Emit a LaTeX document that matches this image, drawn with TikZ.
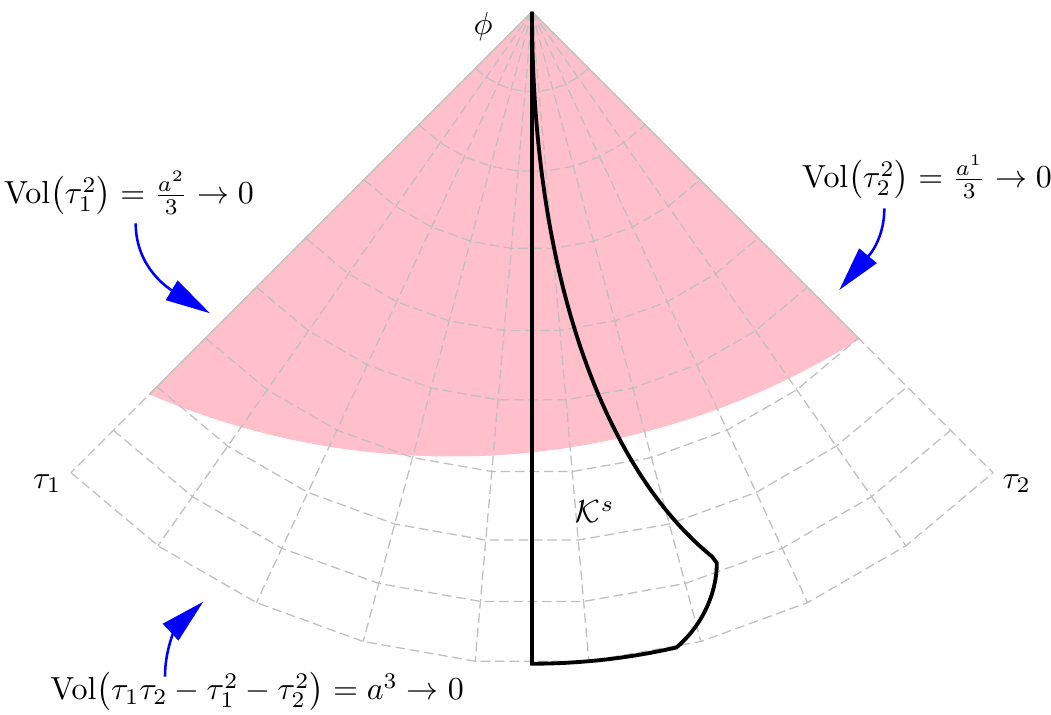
\documentclass[tikz,border=0pt]{standalone}
\usepackage{amsmath}
\usetikzlibrary{arrows.meta}

\definecolor{volpink}{RGB}{255,192,203}
\tikzset{
  gridline/.style={gray!50, dash pattern=on 3pt off 1.5pt},
  volarrow/.style={thick, blue, -{Triangle[length=14pt,width=7pt]}},
}

\begin{document}
\begin{tikzpicture}[scale=0.88]
  \useasboundingbox (-6.65,0.146) rectangle (6.4875,-8.79);

  % Bereich mit verschwindendem Volumen
  \begin{scope}
    \clip (0,0) -- (-135:12) -- (-45:12) -- cycle;
    \fill[volpink] (-1,4) circle (9.56);
  \end{scope}
  \draw[gray!50] (-135:6.76) -- (0,0) -- (-45:5.79);

  % Gitter
  \foreach \a in {-135,-125,...,-45}
    \draw[gridline] (0,0) -- (\a:8.15);
  \foreach \r in {1,2,2.97,4,4.87,5.77,6.63,7.4,8.15}
    \draw[gridline] (-135:\r) \foreach \a in {-125,-115,...,-45} { -- (\a:\r) };

  % Kegel
  \draw[very thick] (0,0) .. controls (0,-3.5) and (1.0,-5.8) .. (2.25,-6.81)
    -- (2.31,-6.89) .. controls (2.31,-7.3) and (2.1,-7.7) .. (-77.2:8.15)
    arc[start angle=-77.2, end angle=-90, radius=8.15] -- cycle;
  \node (ks) at (0.79,-6.25) {$\mathcal{K}^s$};

  \node (phi) at (-0.61,-0.19) {$\phi$};
  \node (t1) at (-6.06,-5.9) {$\tau_1$};
  \node (t2) at (6.06,-5.9) {$\tau_2$};

  % Beschriftungen
  \node (vol1) at (-5.0375,-2.266) {$\mathrm{Vol}\bigl(\tau_1^2\bigr) = \frac{a^2}{3} \to 0$};
  \node (vol2) at (4.9375,-2.066) {$\mathrm{Vol}\bigl(\tau_2^2\bigr) = \frac{a^1}{3} \to 0$};
  \node (vol3) at (-3.4375,-8.5) {$\mathrm{Vol}\bigl(\tau_1\tau_2 - \tau_1^2 - \tau_2^2\bigr) = a^3 \to 0$};

  \coordinate (from1) at (-4.954,-2.645);
  \coordinate (to1) at (-4.025,-3.77);
  \coordinate (from2) at (4.404,-2.4575);
  \coordinate (to2) at (3.841,-3.479);
  \coordinate (from3) at (-4.5875,-8.3125);
  \coordinate (to3) at (-4.109,-7.375);
  \draw[volarrow] (from1) to[out=-90, in=149] (to1);
  \draw[volarrow] (from2) to[out=-90, in=50] (to2);
  \draw[volarrow] (from3) to[out=90, in=-137] (to3);
\end{tikzpicture}
\end{document}
